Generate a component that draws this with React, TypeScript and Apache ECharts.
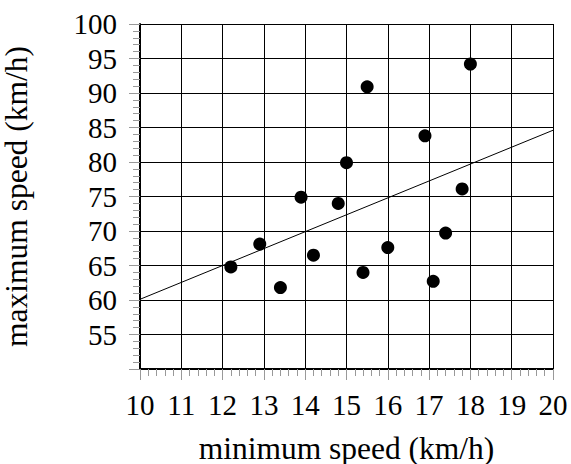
import React, { useEffect, useRef } from "react";
import * as echarts from "echarts";

const minSpeed = [12.2, 12.9, 13.4, 13.9, 14.2, 14.8, 15.0, 15.5, 15.4, 16.0, 16.9, 17.1, 17.4, 17.8, 18.0];
const maxSpeed = [64.8, 68.1, 61.8, 74.9, 66.5, 74.0, 79.9, 90.9, 64.0, 67.6, 83.8, 62.7, 69.7, 76.1, 94.2];
const fitX = [10, 20];
const fitY = [60.1, 84.6];

const xTitle = "minimum speed (km/h)";
const yTitle = "maximum speed (km/h)";

const FONT = "'Liberation Serif', 'DejaVu Serif', serif";

export default function App() {
  const ref = useRef<HTMLDivElement>(null);
  useEffect(() => {
    if (!ref.current) return;
    const chart = echarts.init(ref.current, undefined, { renderer: "svg" });
    const points = minSpeed.map((x, i) => [x, maxSpeed[i]]);
    const fit = fitX.map((x, i) => [x, fitY[i]]);
    chart.setOption({
      animation: false,
      backgroundColor: "#fff",
      grid: { left: 140, right: 18, top: 24, bottom: 95, containLabel: false, outerBoundsMode: "none" },
      xAxis: {
        type: "value",
        min: 10,
        max: 20,
        interval: 1,
        name: xTitle,
        nameLocation: "middle",
        nameGap: 63,
        nameTextStyle: { fontFamily: FONT, fontSize: 31.5, color: "#000" },
        axisLine: { show: true, lineStyle: { color: "#000", width: 2 } },
        axisTick: { show: true, inside: false, length: 11, lineStyle: { color: "#999", width: 1 } },
        minorTick: { show: true, splitNumber: 5, length: 7, lineStyle: { color: "#999", width: 1 } },
        axisLabel: { fontFamily: FONT, fontSize: 29, color: "#000", margin: 21 },
        splitLine: { show: true, lineStyle: { color: "#000", width: 1 } },
      },
      yAxis: {
        type: "value",
        min: 50,
        max: 100,
        interval: 5,
        name: yTitle,
        nameLocation: "middle",
        nameGap: 108,
        nameTextStyle: { fontFamily: FONT, fontSize: 31.5, color: "#000" },
        axisLine: { show: true, lineStyle: { color: "#000", width: 2 } },
        axisTick: { show: true, inside: false, length: 11, lineStyle: { color: "#999", width: 1 } },
        minorTick: { show: true, splitNumber: 5, length: 7, lineStyle: { color: "#999", width: 1 } },
        axisLabel: {
          fontFamily: FONT,
          fontSize: 29,
          color: "#000",
          margin: 23,
          formatter: (v: number) => (v === 50 ? "" : String(v)),
        },
        splitLine: { show: true, lineStyle: { color: "#000", width: 1 } },
      },
      series: [
        {
          type: "line",
          data: fit,
          showSymbol: false,
          symbol: "none",
          lineStyle: { color: "#000", width: 1 },
          silent: true,
        },
        {
          type: "scatter",
          data: points,
          symbol: "circle",
          symbolSize: 13,
          itemStyle: { color: "#000", opacity: 1 },
        },
      ],
    });
    return () => chart.dispose();
  }, []);
  return (
    <div
      ref={ref}
      style={{ position: "fixed", left: 0, top: 0, width: 571, height: 464, background: "#fff" }}
    />
  );
}
